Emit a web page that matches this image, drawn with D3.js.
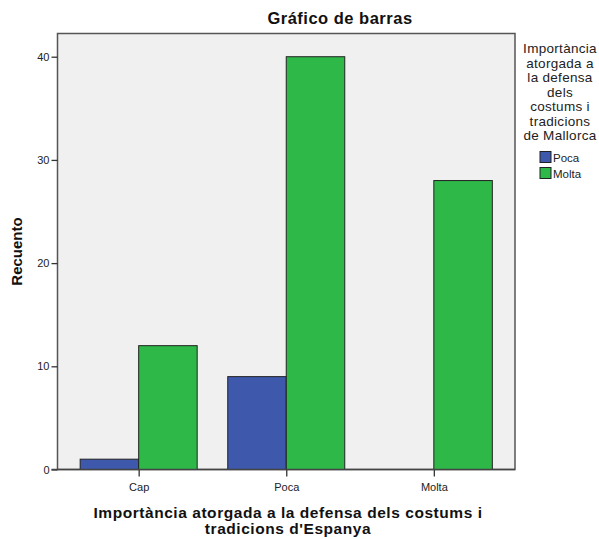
<!DOCTYPE html>
<html>
<head>
<meta charset="utf-8">
<script src="https://cdn.jsdelivr.net/npm/d3@7"></script>
<style>
  body { margin: 0; background: #fff; }
  text { font-family: "Liberation Sans", Arial, sans-serif; }
</style>
</head>
<body>
<svg width="599" height="539"></svg>
<script>
// Data
var categories = ["Cap", "Poca", "Molta"];
var seriesNames = ["Poca", "Molta"];
var pocaValues = [1, 9, 0];
var moltaValues = [12, 40, 28];
var yTicks = [0, 10, 20, 30, 40];
var colors = ["#3e58ac", "#2eb848"];
var legendTitle = ["Importància", "atorgada a", "la defensa", "dels", "costums i", "tradicions", "de Mallorca"];

var svg = d3.select("svg");

// Plot area
var plotLeft = 57.5, plotRight = 515, plotTop = 33.5, plotBottom = 469.5;

var x = d3.scalePoint()
    .domain(categories)
    .range([plotLeft, plotRight])
    .padding(0.55);

var y = d3.scaleLinear()
    .domain([0, 42.25])
    .range([plotBottom, plotTop]);

var barW = 58.5;

// Background
svg.append("rect")
    .attr("x", plotLeft)
    .attr("y", plotTop)
    .attr("width", plotRight - plotLeft)
    .attr("height", plotBottom - plotTop)
    .style("fill", "#f0f0f0")
    .style("stroke", "#555")
    .style("stroke-width", 1.5);

// Bars
var rows = categories.map((c, i) => ({ cat: c, vals: [pocaValues[i], moltaValues[i]] }));

rows.forEach(function(r) {
    r.vals.forEach(function(v, j) {
        if (v <= 0) return;
        svg.append("rect")
            .attr("x", x(r.cat) + (j === 0 ? -barW : 0))
            .attr("y", y(v))
            .attr("width", barW)
            .attr("height", y(0) - y(v))
            .style("fill", colors[j])
            .style("stroke", "#222")
            .style("stroke-width", 1);
    });
});

// Y axis
var yAxis = svg.append("g")
    .attr("transform", "translate(" + plotLeft + ",0)")
    .call(d3.axisLeft(y).tickValues(yTicks).tickSize(6).tickPadding(2));
yAxis.select(".domain").remove();
yAxis.selectAll("line").style("stroke", "#333").style("stroke-width", 1.3);
yAxis.selectAll("text").style("font-size", "11px").style("fill", "#222")
    .style("font-family", "Liberation Sans, Arial, sans-serif");

// X axis
var xAxis = svg.append("g")
    .attr("transform", "translate(0," + plotBottom + ")")
    .call(d3.axisBottom(x).tickSize(7).tickPadding(7));
xAxis.select(".domain").remove();
xAxis.selectAll("line").style("stroke", "#333").style("stroke-width", 1.3);
xAxis.selectAll("text").style("font-size", "11px").style("fill", "#222")
    .style("font-family", "Liberation Sans, Arial, sans-serif");

// Axis line over bars
svg.append("line")
    .attr("x1", plotLeft - 6).attr("x2", plotRight)
    .attr("y1", plotBottom).attr("y2", plotBottom)
    .style("stroke", "#444")
    .style("stroke-width", 1.5);

// Title
svg.append("text")
    .attr("x", 340)
    .attr("y", 24)
    .attr("text-anchor", "middle")
    .style("font-size", "16.5px")
    .style("letter-spacing", "0.5px")
    .style("font-weight", "bold")
    .style("fill", "#111")
    .text("Gráfico de barras");

// Y label
svg.append("text")
    .attr("transform", "translate(22," + ((plotTop + plotBottom) / 2) + ") rotate(-90)")
    .attr("text-anchor", "middle")
    .style("font-size", "15px")
    .style("font-weight", "bold")
    .style("fill", "#111")
    .text("Recuento");

// X label
var xl = svg.append("text")
    .attr("x", 288)
    .attr("y", 518)
    .attr("text-anchor", "middle")
    .style("font-size", "15.5px")
    .style("letter-spacing", "0.55px")
    .style("font-weight", "bold")
    .style("fill", "#111");
xl.append("tspan").attr("x", 288).text("Importància atorgada a la defensa dels costums i");
xl.append("tspan").attr("x", 288).attr("dy", 15.5).text("tradicions d'Espanya");

// Legend
var lg = svg.append("g");
lg.selectAll("text.lt")
    .data(legendTitle)
    .enter().append("text")
    .attr("class", "lt")
    .attr("x", 560)
    .attr("y", (d, i) => 53 + i * 14.5)
    .attr("text-anchor", "middle")
    .style("font-size", "13.5px")
    .style("letter-spacing", "0.3px")
    .style("fill", "#222")
    .text(d => d);

seriesNames.forEach(function(s, i) {
    lg.append("rect")
        .attr("x", 540)
        .attr("y", 151.5 + i * 16)
        .attr("width", 11)
        .attr("height", 11)
        .style("fill", colors[i])
        .style("stroke", "#222")
        .style("stroke-width", 1);
    lg.append("text")
        .attr("x", 553)
        .attr("y", 162 + i * 16)
        .style("font-size", "11.5px")
        .style("fill", "#222")
        .text(s);
});
</script>
</body>
</html>
